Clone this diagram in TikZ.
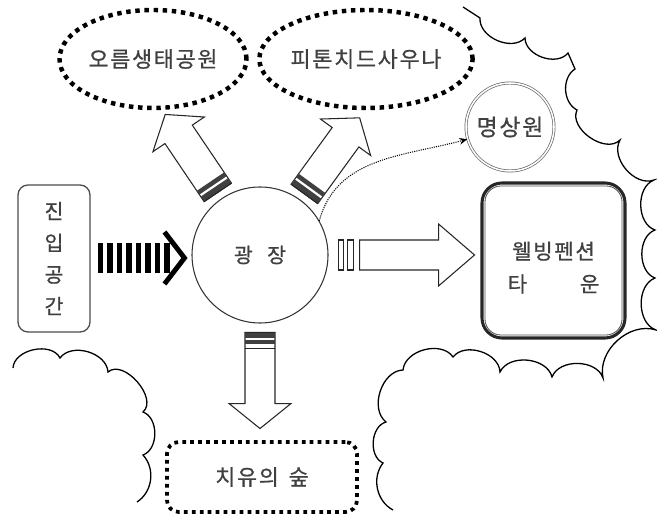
\documentclass[tikz,border=0pt]{standalone}
\usepackage{fontspec}
\newfontfamily\kr{Noto Sans CJK KR}[LetterSpace=8, FakeBold=0.7]
\usetikzlibrary{arrows.meta, positioning, calc, shapes.geometric}

% hollow block arrow along +x: start, head base, tip, half body, half head
\newcommand{\blockarrow}[5]{%
  \draw[blockline] (#1,-#4) -- (#2,-#4) -- (#2,-#5) -- (#3,0) -- (#2,#5) -- (#2,#4) -- (#1,#4) -- cycle;}

\begin{document}
\begin{tikzpicture}[x=0.03cm, y=0.03cm,
  kortext/.style={font=\kr\fontsize{17.5}{21}\selectfont, text=black!75},
  bigtext/.style={font=\kr\fontsize{18.6}{22}\selectfont, text=black!75},
  dotbubble/.style={ellipse, draw=black, line width=3.8pt, dash pattern=on 3.8pt off 4pt,
                    minimum height=2.94cm, inner sep=0pt, bigtext},
  dotbox/.style={rectangle, rounded corners=0.35cm, draw=black, line width=3.2pt,
                 dash pattern=on 3.2pt off 3.6pt, minimum width=5.7cm, minimum height=2.1cm, bigtext},
  blockline/.style={draw=black!85, line width=0.9pt, fill=white, line join=miter},
  band/.style={fill=black!75},
  cloudline/.style={draw=black, line width=1.1pt},
]
\useasboundingbox (0,0) rectangle (657,515);

% === Places ===
\node[circle, draw=black!80, line width=0.9pt, minimum size=4.08cm, kortext] (plaza) at (260,260)
  {광\hspace{0.7em}장};
\node[rectangle, rounded corners=0.3cm, draw=black!70, line width=1.1pt,
      minimum width=2.16cm, minimum height=4.41cm, align=center, kortext,
      font=\kr\fontsize{17.5}{27}\selectfont] (entry) at (54,256.5) {진\\입\\공\\간};
\node[dotbubble, minimum width=5.61cm] (ormpark) at (153,456) {오름생태공원};
\node[dotbubble, minimum width=5.55cm] (sauna)   at (366,456) {피톤치드사우나};
\node[circle, draw=black!60, line width=0.6pt, double=white, double distance=1.3pt,
      minimum size=2.64cm, kortext, font=\kr\fontsize{19.5}{23}\selectfont] (meditation) at (510,388) {명상원};
\node[rectangle, rounded corners=0.6cm, draw=black!85, line width=2.6pt,
      minimum width=4.29cm, minimum height=4.65cm, align=center, kortext,
      font=\kr\fontsize{18}{28}\selectfont] (town) at (553.5,254.5)
  {\rule{0pt}{27pt}웰빙펜션\\\makebox[2.75cm]{타\hfill 운}};
\draw[draw=black!70, line width=0.7pt, rounded corners=0.48cm]
  ($(town.south west)+(4.5,4.5)$) rectangle ($(town.north east)-(4.5,4.5)$);
\node[dotbox] (forest) at (262,38) {치유의\hspace{0.45em}숲};

% === Entry -> plaza (striped) ===
\foreach \i in {0,...,7}
  \fill[black] ($(entry.east)+(7+9.5*\i,-14.5)$) rectangle +(5.5,30);
\draw[line width=4.2pt, line join=miter] ($(plaza.west)+(-27,23)$) -- ($(plaza.west)+(-7,-3)$)
  -- ($(plaza.west)+(-27,-29)$);

% === Plaza -> parks ===
\foreach \ang in {124, 54} {
  \begin{scope}[shift={(plaza.\ang)}, rotate=\ang]
    \blockarrow{7}{77}{101}{16.5}{31}
    \fill[band] (7,-16.5) rectangle (13,16.5);
    \fill[band] (15.5,-16.5) rectangle (20,16.5);
    \draw[black!85, line width=0.9pt] (7,-16.5) -- (7,16.5);
  \end{scope}
}

% === Plaza -> forest ===
\begin{scope}[shift={(plaza.south)}, rotate=-90]
  \blockarrow{9}{80}{105}{15}{31}
  \fill[band] (9,-15) rectangle (14,15);
  \fill[band] (16,-15) rectangle (20,15);
  \draw[black!85, line width=0.9pt] (25,-15) -- (25,15);
\end{scope}

% === Plaza -> town ===
\begin{scope}[shift={(plaza.east)}]
  \draw[black!85, line width=0.9pt] (10,-15) rectangle (15,15);
  \draw[black!85, line width=0.9pt] (19,-15) rectangle (25,15);
  \blockarrow{31}{110}{146}{15}{31}
\end{scope}

% === Plaza -> meditation ===
\draw[densely dotted, line width=0.9pt, -{Stealth[length=2.4mm, width=2mm]}]
  (plaza.30) to[out=75, in=195] (meditation.196);

% === Clouds ===
\draw[cloudline] (463,508) -- (480,497) to[bend right=70] (525,477) to[bend right=70] (568,462)
  -- (575,446) to[bend right=60] (577,405) to[bend right=80] (620,375) to[bend right=70] (654,335)
  to[bend right=70] (655,285) to[bend right=70] (655,237) to[bend right=70] (656,185)
  to[bend right=60] (603,137) to[bend right=70] (552,138) to[bend right=70] (500,143)
  to[bend right=70] (453,158) to[bend right=70] (403,145) to[bend right=70] (386,93)
  to[bend right=70] (383,52) to[bend right=50] (393,5);
\draw[cloudline] (13,147) to[bend left=75] (60,157) to[bend left=70] (108,143)
  to[bend left=90] (143,103) to[bend left=70] (143,60) to[bend left=50] (137,13);

\end{tikzpicture}
\end{document}
